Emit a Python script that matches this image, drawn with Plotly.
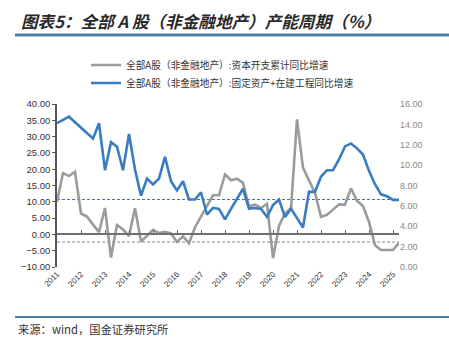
import plotly.graph_objects as go

# ---- data (quarterly, 2011Q1 .. 2025Q2) ----
start_year = 2011
capex_yoy = [10.0, 18.8, 17.9, 19.2, 6.4, 5.5, 3.0, 0.7, 8.1, -7.1,
             2.9, 1.5, -0.5, 8.0, -2.2, -0.3, 1.4, 0.4, 0.8, 0.3,
             -2.3, -0.6, -2.7, 2.2, 5.5, 8.8, 12.0, 12.0, 18.4, 16.6,
             17.1, 15.8, 8.6, 9.1, 8.1, 9.4, -7.3, 2.6, 6.5, 8.0,
             35.3, 20.4, 16.5, 12.7, 5.4, 6.0, 7.6, 9.2, 9.1, 14.1,
             10.3, 8.7, 3.8, -3.3, -4.8, -4.8, -4.8, -2.6]
fixed_assets_yoy = [34.1, 35.0, 36.1, 34.4, 32.8, 31.1, 29.4, 34.1, 19.7, 28.3,
                    26.9, 19.7, 30.8, 19.9, 11.9, 17.1, 15.3, 17.1, 23.8, 16.3,
                    13.5, 16.3, 10.7, 10.7, 12.9, 6.1, 8.1, 7.8, 4.6, 7.8,
                    10.9, 14.0, 7.9, 8.1, 7.8, 5.4, 9.0, 10.7, 5.3, 7.9,
                    5.0, 2.1, 13.1, 13.0, 17.7, 19.7, 19.7, 23.0, 27.0, 27.9,
                    26.4, 24.5, 19.5, 15.4, 12.3, 11.7, 10.6, 10.6]
capex_ref = -2.35
fixed_ref = 10.7
year_ticks = list(range(2011, 2026))
year_labels = [str(y) for y in year_ticks]
left_ticks = [-10, -5, 0, 5, 10, 15, 20, 25, 30, 35, 40]
right_ticks = [0, 2, 4, 6, 8, 10, 12, 14, 16]

name_capex = "全部A股（非金融地产）:资本开支累计同比增速"
name_fixed = "全部A股（非金融地产）:固定资产+在建工程同比增速"

x = [start_year + k / 4 for k in range(len(capex_yoy))]
x_span = [x[0], x[-1]]

W, H = 449, 337
ML, MR, MT, MB = 57, 50, 104, 70
PW, PH = W - ML - MR, H - MT - MB


def px(v):
    return (v - ML) / PW


def py(v):
    return (H - MB - v) / PH


BLUE = "#3a7cc3"
GRAY = "#9b9b9b"
CJK = "Noto Sans CJK SC"

fig = go.Figure()
fig.add_trace(go.Scatter(x=x_span, y=[fixed_ref, fixed_ref], mode="lines",
                         line=dict(color="#3f6fd1", width=1.2, dash="3px,2px"),
                         showlegend=False, hoverinfo="skip"))
fig.add_trace(go.Scatter(x=x_span, y=[capex_ref, capex_ref], mode="lines",
                         line=dict(color="#b0b0b0", width=1.5, dash="3px,2px"),
                         showlegend=False, hoverinfo="skip"))
fig.add_trace(go.Scatter(x=x, y=capex_yoy, mode="lines", name=name_capex,
                         line=dict(color=GRAY, width=2.6), legend="legend"))
fig.add_trace(go.Scatter(x=x, y=fixed_assets_yoy, mode="lines", name=name_fixed,
                         line=dict(color=BLUE, width=2.6), legend="legend2"))
# helper traces to attach the secondary axes
fig.add_trace(go.Scatter(x=[], y=[], yaxis="y2", showlegend=False, hoverinfo="skip"))
fig.add_trace(go.Scatter(x=[], y=[], xaxis="x2", showlegend=False, hoverinfo="skip"))

legend_style = dict(xanchor="left", yanchor="middle",
                    font=dict(family=CJK, size=9.7, color="#333333"),
                    bgcolor="rgba(0,0,0,0)", itemwidth=30)

xr = [start_year, x[-1]]
fig.update_layout(
    width=W, height=H,
    margin=dict(l=ML, r=MR, t=MT, b=MB),
    paper_bgcolor="white", plot_bgcolor="white",
    font=dict(family="Liberation Sans, Arial", color="#333333", size=9),
    xaxis=dict(range=xr, tickvals=year_ticks, ticktext=year_labels,
               tickangle=-45, showgrid=False, zeroline=False, showline=False,
               ticks="", tickfont=dict(size=8, color="#333333")),
    xaxis2=dict(range=xr, overlaying="x", anchor="free", position=0.2,
                tickvals=year_ticks, showticklabels=False, ticks="inside",
                ticklen=3, tickcolor="#666666", showline=True, linecolor="#707070",
                linewidth=2, showgrid=False, zeroline=False),
    yaxis=dict(range=[-10, 40], tickvals=left_ticks, tickformat=".2f",
               showgrid=False, zeroline=False, showline=True, linecolor="#555555",
               linewidth=1.5, ticks="outside", ticklen=3, tickcolor="#555555",
               tickfont=dict(size=9.5, color="#333333")),
    yaxis2=dict(range=[0, 16], tickvals=right_ticks, tickformat=".2f",
                overlaying="y", side="right", showgrid=False, zeroline=False,
                showline=False, ticks="", tickfont=dict(size=9, color="#888888")),
    legend=dict(x=px(86), y=py(65), **legend_style),
    legend2=dict(x=px(86), y=py(83), **legend_style),
    showlegend=True,
)

fig.add_annotation(x=px(19), y=py(21), xref="paper", yref="paper",
                   text="<b><i>图表5：全部 A 股（非金融地产）产能周期（%）</i></b>",
                   showarrow=False, xanchor="left", yanchor="middle",
                   font=dict(family=CJK, size=16.6, color="#2a2a2a"))
fig.add_annotation(x=px(16), y=py(329), xref="paper", yref="paper",
                   text="来源：wind，国金证券研究所",
                   showarrow=False, xanchor="left", yanchor="middle",
                   font=dict(family=CJK, size=11.3, color="#333333"))
fig.add_shape(type="line", xref="paper", yref="paper",
              x0=px(15), x1=px(449), y0=py(35), y1=py(35),
              line=dict(color="#4f7f9f", width=3))
fig.add_shape(type="line", xref="paper", yref="paper",
              x0=px(15), x1=px(449), y0=py(317), y1=py(317),
              line=dict(color="#4f7f9f", width=2))

fig.write_html("out.html")
